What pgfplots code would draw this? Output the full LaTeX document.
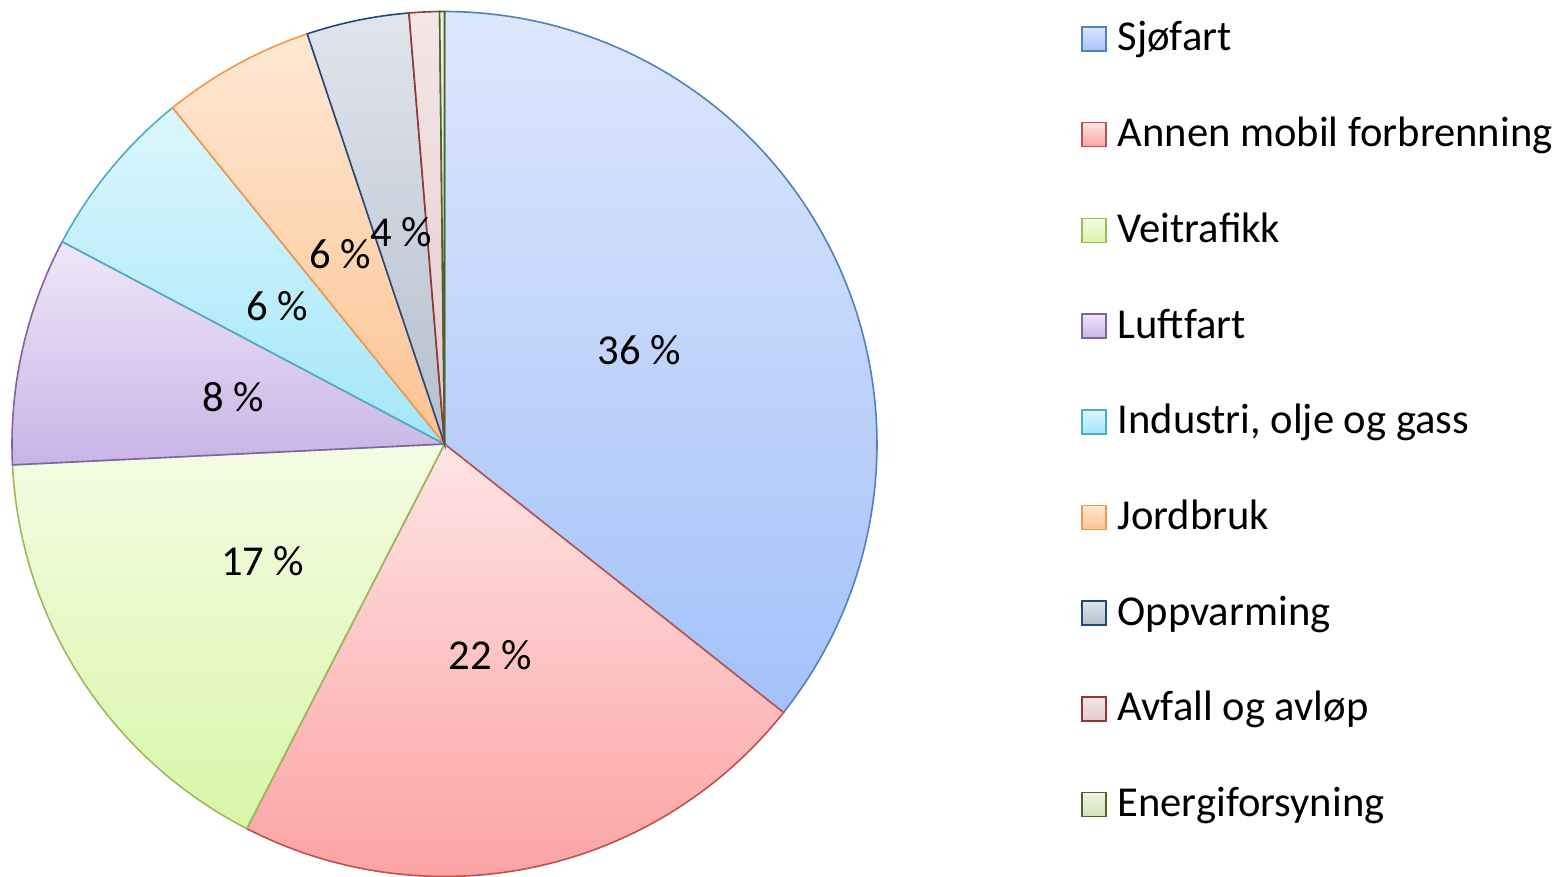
\documentclass[border=0pt]{standalone}
\usepackage{fontspec}
\setmainfont{Carlito}
\usepackage{pgfplots}
\pgfplotsset{compat=1.18}

% edge colours
\definecolor{eA}{HTML}{4F81BD}
\definecolor{eB}{HTML}{C0504D}
\definecolor{eC}{HTML}{9BBB59}
\definecolor{eD}{HTML}{8064A2}
\definecolor{eE}{HTML}{4BACC6}
\definecolor{eF}{HTML}{F79646}
\definecolor{eG}{HTML}{1F497D}
\definecolor{eH}{HTML}{943634}
\definecolor{eI}{HTML}{4F6228}
% gradient top / bottom
\definecolor{tA}{HTML}{DDE7FB}\definecolor{uA}{HTML}{A3C1FA}
\definecolor{tB}{HTML}{FEE4E4}\definecolor{uB}{HTML}{FBA3A3}
\definecolor{tC}{HTML}{F4FCE4}\definecolor{uC}{HTML}{D8F6A8}
\definecolor{tD}{HTML}{EFE7F7}\definecolor{uD}{HTML}{C8B4E6}
\definecolor{tE}{HTML}{DDF6FC}\definecolor{uE}{HTML}{A2E6F8}
\definecolor{tF}{HTML}{FEE8D4}\definecolor{uF}{HTML}{FCC391}
\definecolor{tG}{HTML}{E0E4EC}\definecolor{uG}{HTML}{B6BFCD}
\definecolor{tH}{HTML}{F3E6E6}\definecolor{uH}{HTML}{E6CACA}
\definecolor{tI}{HTML}{EEF4E4}\definecolor{uI}{HTML}{D2E2BC}

% shares in percent
\def\vA{35.66} % Sjøfart
\def\vB{21.90} % Annen mobil forbrenning
\def\vC{16.67} % Veitrafikk
\def\vD{8.52}  % Luftfart
\def\vE{6.43}  % Industri, olje og gass
\def\vF{5.68}  % Jordbruk
\def\vG{3.83}  % Oppvarming
\def\vH{1.13}  % Avfall og avløp
\def\vI{0.18}  % Energiforsyning

\def\cx{444.5}\def\cy{433}\def\R{432.5}
\pgfmathsetmacro\aZ{90}
\pgfmathsetmacro\aA{\aZ-3.6*\vA}
\pgfmathsetmacro\aB{\aA-3.6*\vB}
\pgfmathsetmacro\aC{\aB-3.6*\vC}
\pgfmathsetmacro\aD{\aC-3.6*\vD}
\pgfmathsetmacro\aE{\aD-3.6*\vE}
\pgfmathsetmacro\aF{\aE-3.6*\vF}
\pgfmathsetmacro\aG{\aF-3.6*\vG}
\pgfmathsetmacro\aH{\aG-3.6*\vH}
\pgfmathsetmacro\aI{\aH-3.6*\vI}

\newcommand\lbl[3]{\node[font=\fontsize{21.3}{25}\selectfont] at (axis cs:{\cx+0.5*\R*cos((#1+#2)/2)},{\cy+0.5*\R*sin((#1+#2)/2)}) {#3};}

\begin{document}
\begin{tikzpicture}
\path[use as bounding box] (0,0) rectangle (779pt,438.5pt);
\begin{axis}[
  at={(0,0)}, anchor=south west,
  scale only axis, width=779pt, height=438.5pt,
  xmin=0, xmax=1558, ymin=0, ymax=877,
  hide axis, clip=false,
  legend image code/.code={\path[#1] (0pt,0pt) rectangle (12pt,12pt);},
  legend style={at={(axis cs:1081,860)}, anchor=north west, draw=none, fill=none,
    inner sep=0pt, outer sep=0pt, column sep=3.5pt, row sep=27.35pt,
    font=\fontsize{21.3}{25}\selectfont,
    cells={anchor=base west, text height=15pt, text depth=5pt, inner sep=0pt}},
  every axis plot/.append style={line width=0.8pt, samples=120, variable=\t},
]
\addplot[draw=eA, top color=tA, bottom color=uA, domain=\aA:\aZ] ({\cx+\R*cos(\t)},{\cy+\R*sin(\t)}) -- (axis cs:\cx,\cy) -- cycle;
\addlegendentry{Sjøfart}
\addplot[draw=eB, top color=tB, bottom color=uB, domain=\aB:\aA] ({\cx+\R*cos(\t)},{\cy+\R*sin(\t)}) -- (axis cs:\cx,\cy) -- cycle;
\addlegendentry{Annen mobil forbrenning}
\addplot[draw=eC, top color=tC, bottom color=uC, domain=\aC:\aB] ({\cx+\R*cos(\t)},{\cy+\R*sin(\t)}) -- (axis cs:\cx,\cy) -- cycle;
\addlegendentry{Veitrafikk}
\addplot[draw=eD, top color=tD, bottom color=uD, domain=\aD:\aC] ({\cx+\R*cos(\t)},{\cy+\R*sin(\t)}) -- (axis cs:\cx,\cy) -- cycle;
\addlegendentry{Luftfart}
\addplot[draw=eE, top color=tE, bottom color=uE, domain=\aE:\aD] ({\cx+\R*cos(\t)},{\cy+\R*sin(\t)}) -- (axis cs:\cx,\cy) -- cycle;
\addlegendentry{Industri, olje og gass}
\addplot[draw=eF, top color=tF, bottom color=uF, domain=\aF:\aE] ({\cx+\R*cos(\t)},{\cy+\R*sin(\t)}) -- (axis cs:\cx,\cy) -- cycle;
\addlegendentry{Jordbruk}
\addplot[draw=eG, top color=tG, bottom color=uG, domain=\aG:\aF] ({\cx+\R*cos(\t)},{\cy+\R*sin(\t)}) -- (axis cs:\cx,\cy) -- cycle;
\addlegendentry{Oppvarming}
\addplot[draw=eH, top color=tH, bottom color=uH, domain=\aH:\aG, samples=20] ({\cx+\R*cos(\t)},{\cy+\R*sin(\t)}) -- (axis cs:\cx,\cy) -- cycle;
\addlegendentry{Avfall og avløp}
\addplot[draw=eI, top color=tI, bottom color=uI, domain=\aI:\aH, samples=5] ({\cx+\R*cos(\t)},{\cy+\R*sin(\t)}) -- (axis cs:\cx,\cy) -- cycle;
\addlegendentry{Energiforsyning}

\lbl{\aZ}{\aA}{36 \%}
\lbl{\aA}{\aB}{22 \%}
\lbl{\aB}{\aC}{17 \%}
\lbl{\aC}{\aD}{8 \%}
\lbl{\aD}{\aE}{6 \%}
\lbl{\aE}{\aF}{6 \%}
\lbl{\aF}{\aG}{4 \%}
\end{axis}
\end{tikzpicture}
\end{document}
